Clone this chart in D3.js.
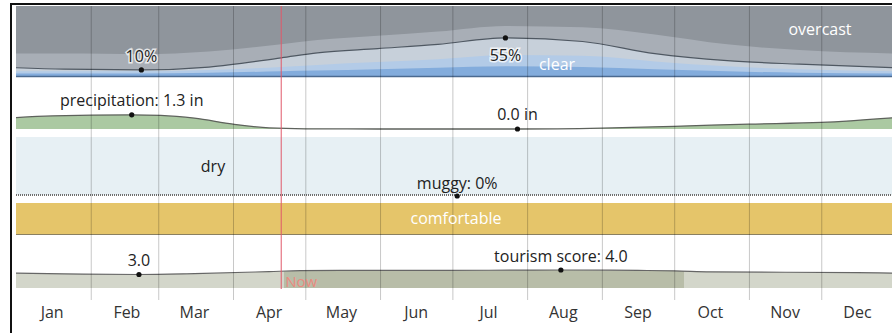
<!DOCTYPE html>
<html>
<head>
<meta charset="utf-8">
<script src="https://cdn.jsdelivr.net/npm/d3@7"></script>
<style>
  html, body { margin: 0; padding: 0; background: #fff; }
  svg { display: block; font-family: "Open Sans", "Noto Sans", sans-serif; }
</style>
</head>
<body>
<svg id="chart" width="892" height="333"></svg>
<script>
// ---- data (day of year, 0 = Jan 1) ----
const months = ["Jan","Feb","Mar","Apr","May","Jun","Jul","Aug","Sep","Oct","Nov","Dec"];

// cloud cover, cumulative % of time
const cloudDays        = [0, 20, 52, 80, 110, 125, 150, 175, 203, 235, 265, 295, 325, 365];
const clearPct         = [5, 5, 5, 6, 8, 9, 11, 13, 15, 14, 11, 8, 6, 5];
const mostlyClearPct   = [8, 8, 8, 10, 14, 17, 21, 25, 31, 30, 22, 15, 11, 8];
const partlyCloudyPct  = [13, 11, 10, 14, 27, 34, 40, 46, 55, 50, 33, 23, 18, 13];
const mostlyCloudyPct  = [33, 33, 32, 36, 46, 52, 58, 64, 72, 70, 60, 46, 38, 33];

// precipitation, inches (31-day sliding)
const precipDays  = [0, 15, 48, 60, 74, 90, 105, 120, 150, 180, 208, 243, 273, 304, 334, 365];
const precipIn    = [1.05, 1.2, 1.3, 1.25, 1.0, 0.45, 0.1, 0.02, 0.0, 0.0, 0.0, 0.08, 0.25, 0.45, 0.6, 1.05];

// muggy share, %
const muggyDays = [0, 45, 91, 135, 183, 227, 273, 319, 365];
const muggyPct  = [0, 0, 0, 0, 0, 0, 0, 0, 0];

// tourism score
const tourDays  = [0, 20, 51, 74, 105, 118, 135, 166, 196, 226, 258, 273, 288, 319, 349, 365];
const tourScore = [3.3, 3.15, 3.0, 3.2, 3.65, 3.85, 3.9, 3.9, 3.95, 4.0, 3.9, 3.82, 3.6, 3.5, 3.4, 3.3];

const nowDay = 110;

// ---- scales ----
const year0 = new Date(2023, 0, 1);
const dayDate = d => d3.timeDay.offset(year0, d);
const x = d3.scaleTime().domain([year0, new Date(2024, 0, 1)]).range([16, 896]);
const xd = d => x(dayDate(d));

const yCloud = d3.scaleLinear().domain([0, 100]).range([77, 6]);
const yPrec  = d3.scaleLinear().domain([0, 4.5]).range([129, 80]);
const yHum   = d3.scaleLinear().domain([0, 100]).range([195, 137]);
const yTour  = d3.scaleLinear().domain([0, 10]).range([288, 243]);

const svg = d3.select("#chart");
const curve = d3.curveMonotoneX;

// ---- cloud cover panel ----
const cloud = svg.append("g");
cloud.append("rect").attr("x", x.range()[0]).attr("y", yCloud(100))
  .attr("width", x.range()[1] - x.range()[0]).attr("height", yCloud(0) - yCloud(100))
  .attr("fill", "#8f959c");
const cloudBands = [
  { v: mostlyCloudyPct, c: "#a8aeb6" },
  { v: partlyCloudyPct, c: "#c7d0da" },
  { v: mostlyClearPct,  c: "#b3cbe7" },
  { v: clearPct,        c: "#83acdc" }
];
cloudBands.forEach(b => {
  const a = d3.area().curve(curve)
    .x((d, i) => xd(cloudDays[i])).y0(yCloud(0)).y1(d => yCloud(d));
  cloud.append("path").datum(b.v).attr("d", a).attr("fill", b.c);
});
cloud.append("path").datum(partlyCloudyPct)
  .attr("d", d3.line().curve(curve).x((d, i) => xd(cloudDays[i])).y(d => yCloud(d)))
  .attr("fill", "none").attr("stroke", "#4f5862").attr("stroke-width", 1.2);
cloud.append("line").attr("x1", x.range()[0]).attr("x2", x.range()[1])
  .attr("y1", yCloud(0) - 0.5).attr("y2", yCloud(0) - 0.5)
  .attr("stroke", "#4b6a90").attr("stroke-width", 1.5);

// ---- precipitation panel ----
const prec = svg.append("g");
prec.append("path").datum(precipIn)
  .attr("d", d3.area().curve(curve).x((d, i) => xd(precipDays[i])).y0(yPrec(0)).y1(d => yPrec(d)))
  .attr("fill", "#abc9a2");
prec.append("path").datum(precipIn)
  .attr("d", d3.line().curve(curve).x((d, i) => xd(precipDays[i])).y(d => yPrec(d)))
  .attr("fill", "none").attr("stroke", "#5e625c").attr("stroke-width", 1.3);

// ---- humidity panel ----
const hum = svg.append("g");
hum.append("rect").attr("x", x.range()[0]).attr("y", yHum(100))
  .attr("width", x.range()[1] - x.range()[0]).attr("height", yHum(0) - yHum(100))
  .attr("fill", "#e7f0f4");
hum.append("path").datum(muggyPct)
  .attr("d", d3.line().x((d, i) => xd(muggyDays[i])).y(d => yHum(d)))
  .attr("fill", "none").attr("stroke", "#6e6e6e").attr("stroke-width", 2)
  .attr("stroke-dasharray", "1,1");
hum.append("rect").attr("x", x.range()[0]).attr("y", 203)
  .attr("width", x.range()[1] - x.range()[0]).attr("height", 32)
  .attr("fill", "#e5c56a");
hum.append("line").attr("x1", x.range()[0]).attr("x2", x.range()[1])
  .attr("y1", 234.5).attr("y2", 234.5).attr("stroke", "#8a8060").attr("stroke-width", 1);

// ---- tourism panel ----
const tour = svg.append("g");
const tourColor = v => v >= 3.75 ? "#b8bda8" : "#d3d6ca";
const grad = svg.append("defs").append("linearGradient").attr("id", "tourGrad")
  .attr("gradientUnits", "userSpaceOnUse")
  .attr("x1", x.range()[0]).attr("x2", x.range()[1]).attr("y1", 0).attr("y2", 0);
const span = x.range()[1] - x.range()[0];
const stops = [];
for (let i = 0; i < tourDays.length; i++) {
  if (i > 0) {
    const a = tourScore[i - 1], b = tourScore[i];
    if ((a >= 3.75) !== (b >= 3.75)) {
      const t = (3.75 - a) / (b - a);
      const dCross = tourDays[i - 1] + t * (tourDays[i] - tourDays[i - 1]);
      const off = (xd(dCross) - x.range()[0]) / span;
      stops.push([off, tourColor(a)], [off, tourColor(b)]);
    }
  }
  stops.push([(xd(tourDays[i]) - x.range()[0]) / span, tourColor(tourScore[i])]);
}
stops.forEach(s => grad.append("stop").attr("offset", s[0]).attr("stop-color", s[1]));
tour.append("path").datum(tourScore)
  .attr("d", d3.area().curve(curve).x((d, i) => xd(tourDays[i])).y0(yTour(0)).y1(d => yTour(d)))
  .attr("fill", "url(#tourGrad)");
tour.append("path").datum(tourScore)
  .attr("d", d3.line().curve(curve).x((d, i) => xd(tourDays[i])).y(d => yTour(d)))
  .attr("fill", "none").attr("stroke", "#666").attr("stroke-width", 1.2);

// ---- month grid + labels ----
const monthStarts = d3.timeMonth.range(new Date(2023, 1, 1), new Date(2024, 0, 1));
const grid = svg.append("g").attr("transform", "translate(0,300)")
  .call(d3.axisBottom(x).tickValues(monthStarts).tickSize(-294).tickFormat(""));
grid.select(".domain").remove();
grid.selectAll(".tick line").attr("stroke", "rgba(0,0,0,0.22)").attr("stroke-width", 1);

svg.append("g").selectAll("text").data(months).join("text")
  .attr("x", (d, i) => x(new Date(2023, i, 16)))
  .attr("y", 318).attr("text-anchor", "middle")
  .attr("font-size", 16).attr("fill", "#333").text(d => d);

// ---- now marker ----
svg.append("line").attr("x1", xd(nowDay)).attr("x2", xd(nowDay))
  .attr("y1", 6).attr("y2", 289).attr("stroke", "#e0586a").attr("stroke-width", 1);
svg.append("text").attr("x", xd(nowDay) + 4).attr("y", 287)
  .attr("font-size", 15).attr("fill", "#ea8a80").text("Now");

// ---- value labels ----
function mark(cx, cy) {
  svg.append("circle").attr("cx", cx).attr("cy", cy).attr("r", 2.6).attr("fill", "#111");
}
function label(t, lx, ly, opts = {}) {
  const el = svg.append("text").attr("x", lx).attr("y", ly)
    .attr("text-anchor", opts.anchor || "middle")
    .attr("font-size", opts.size || 16)
    .attr("fill", opts.fill || "#222").text(t);
  if (opts.halo) el.attr("stroke", "#fff").attr("stroke-width", 3)
    .attr("stroke-opacity", 0.75).attr("paint-order", "stroke");
  return el;
}

// cloud extremes
const cMinI = partlyCloudyPct.indexOf(d3.min(partlyCloudyPct));
const cMaxI = partlyCloudyPct.indexOf(d3.max(partlyCloudyPct));
mark(xd(cloudDays[cMinI]), yCloud(partlyCloudyPct[cMinI]));
label(partlyCloudyPct[cMinI] + "%", xd(cloudDays[cMinI]), yCloud(partlyCloudyPct[cMinI]) - 8, { halo: true });
mark(xd(cloudDays[cMaxI]), yCloud(partlyCloudyPct[cMaxI]));
label(partlyCloudyPct[cMaxI] + "%", xd(cloudDays[cMaxI]), yCloud(partlyCloudyPct[cMaxI]) + 23, { halo: true });
label("clear", 557, 70, { fill: "#fff" });
label("overcast", 820, 35, { fill: "#fff" });

// precipitation extremes
const pMaxI = precipIn.indexOf(d3.max(precipIn));
mark(xd(precipDays[pMaxI]), yPrec(precipIn[pMaxI]));
label("precipitation: " + precipIn[pMaxI].toFixed(1) + " in", xd(precipDays[pMaxI]), 106);
const pMinI = 10;
mark(xd(precipDays[pMinI]), yPrec(precipIn[pMinI]));
label(precipIn[pMinI].toFixed(1) + " in", xd(precipDays[pMinI]), 120);

// humidity
label("dry", 213, 172);
mark(xd(muggyDays[4]), yHum(muggyPct[4]) + 1);
label("muggy: " + muggyPct[4] + "%", xd(muggyDays[4]), 189);
label("comfortable", 456, 224, { fill: "#fff" });

// tourism extremes
const tMinI = tourScore.indexOf(d3.min(tourScore));
const tMaxI = tourScore.indexOf(d3.max(tourScore));
mark(xd(tourDays[tMinI]), yTour(tourScore[tMinI]));
label(tourScore[tMinI].toFixed(1), xd(tourDays[tMinI]), 266);
mark(xd(tourDays[tMaxI]), yTour(tourScore[tMaxI]));
label("tourism score: " + tourScore[tMaxI].toFixed(1), xd(tourDays[tMaxI]), 262);

// ---- frame ----
svg.append("line").attr("x1", 10).attr("x2", 892).attr("y1", 4).attr("y2", 4)
  .attr("stroke", "#111").attr("stroke-width", 2);
svg.append("line").attr("x1", 11).attr("x2", 11).attr("y1", 3).attr("y2", 333)
  .attr("stroke", "#111").attr("stroke-width", 2);
</script>
</body>
</html>
